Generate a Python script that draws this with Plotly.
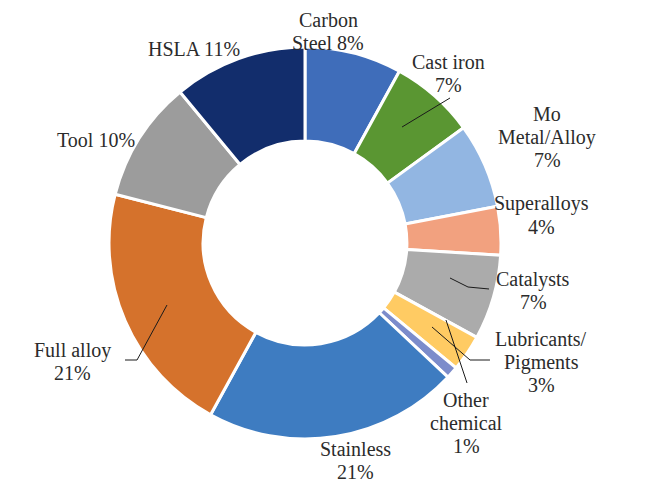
import plotly.graph_objects as go

labels = ["Carbon Steel", "Cast iron", "Mo Metal/Alloy", "Superalloys", "Catalysts",
          "Lubricants/Pigments", "Other chemical", "Stainless", "Full alloy", "Tool", "HSLA"]
values = [8, 7, 7, 4, 7, 3, 1, 21, 21, 10, 11]
colors = ["#3F6DBA", "#5A9632", "#92B6E2", "#F2A17F", "#ABABAB",
          "#FFCB63", "#7C8CCB", "#3E7CC1", "#D5722C", "#9C9C9C", "#122D6C"]
label_lines = [["Carbon", "Steel 8%"], ["Cast iron", "7%"], ["Mo", "Metal/Alloy", "7%"],
               ["Superalloys", "4%"], ["Catalysts", "7%"], ["Lubricants/", "Pigments", "3%"],
               ["Other", "chemical", "1%"], ["Stainless", "21%"], ["Full alloy", "21%"],
               ["Tool 10%"], ["HSLA 11%"]]
# label position in screen pixels: center x, center y of first line
label_pos = [(328, 20), (448, 62), (547, 114), (541, 204), (533, 279),
             (541, 339), (466, 400), (355, 449), (72, 350), (96, 140), (194, 49)]
LINE_GAP = 23

W, H = 650, 487
OFF = 8  # page body margin


def px2paper(x, y):
    return (x - OFF) / W, 1 - (y - OFF) / H


x0, y1 = px2paper(108, 47)
x1, y0 = px2paper(502, 439)
fig = go.Figure(go.Pie(
    labels=labels, values=values, sort=False, direction="clockwise", rotation=0,
    hole=0.52, marker=dict(colors=colors, line=dict(color="white", width=3)),
    textinfo="none", hoverinfo="label+percent", showlegend=False,
    domain=dict(x=[x0, x1], y=[y0, y1]),
))

for lines, (px, py) in zip(label_lines, label_pos):
    for i, line in enumerate(lines):
        ax, ay = px2paper(px, py + i * LINE_GAP)
        fig.add_annotation(x=ax, y=ay, xref="paper", yref="paper",
                           xanchor="center", yanchor="middle",
                           text=line, showarrow=False, align="center",
                           font=dict(family="Liberation Serif", size=20, color="#2b2b2b"))

leaders = [
    [(402, 127), (450, 98)],
    [(450, 278), (468, 287), (489, 289)],
    [(432, 327), (470, 360), (490, 360)],
    [(446, 320), (467, 383)],
    [(167, 305), (137, 360), (125, 360)],
]
for pts in leaders:
    path = "M " + " L ".join("{:.4f},{:.4f}".format(*px2paper(x, y)) for x, y in pts)
    fig.add_shape(type="path", path=path, xref="paper", yref="paper",
                  line=dict(color="#1a1a1a", width=1))

fig.update_layout(width=W, height=H, margin=dict(l=0, r=0, t=0, b=0),
                  paper_bgcolor="white", plot_bgcolor="white")
fig.write_html("out.html")
